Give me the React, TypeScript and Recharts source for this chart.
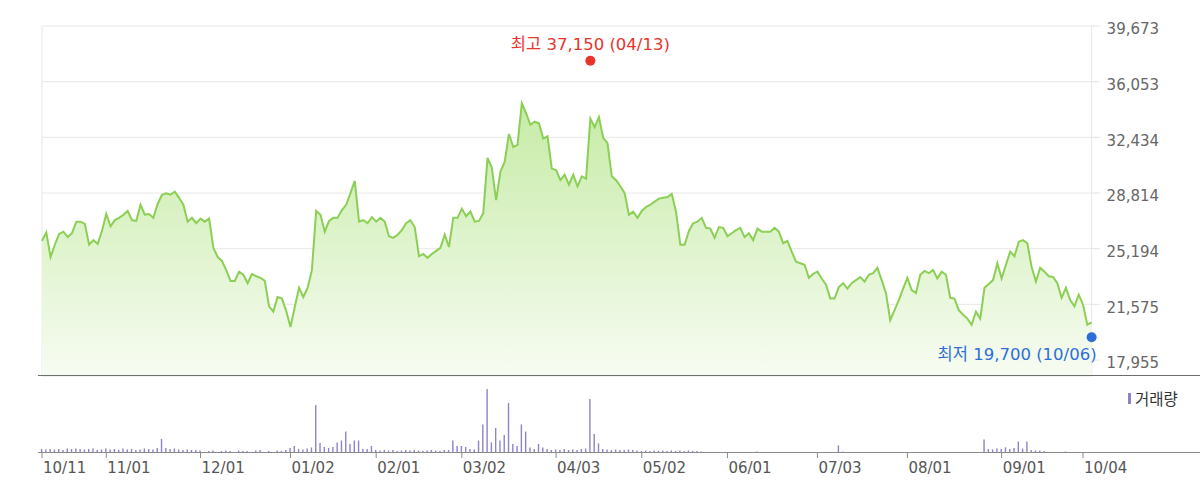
import React from "react"
import {
  ComposedChart,
  Area,
  Bar,
  XAxis,
  YAxis,
  CartesianGrid,
  ReferenceDot,
} from "recharts"

// daily closes, 2022-10-11 .. 2023-10-06 (246 trading days)
const closes = [
  25700, 26250, 24650, 25450, 26150, 26300, 25950, 26200, 26950, 26950,
  26800, 25450, 25750, 25500, 26350, 27450, 26650, 27050, 27200, 27400,
  27650, 27050, 27000, 28050, 27400, 27450, 27200, 28100, 28700, 28800,
  28700, 28900, 28500, 28050, 26950, 27200, 26850, 27150, 26950, 27150,
  25250, 24650, 24400, 23800, 23100, 23100, 23700, 23500, 22950, 23550,
  23400, 23300, 23100, 21450, 21100, 22050, 21950, 21150, 20100, 21400,
  22650, 22050, 22650, 23800, 27650, 27400, 26300, 27000, 27200, 27200,
  27700, 28050, 28800, 29600, 26950, 27050, 26850, 27250, 26950, 27200,
  26950, 26000, 25900, 26100, 26400, 26850, 27050, 26600, 24700, 24850,
  24600, 24850, 25050, 25250, 26100, 25300, 27200, 27200, 27800, 27300,
  27600, 26950, 27000, 27500, 31100, 30450, 28350, 30200, 30850, 32650,
  31800, 31950, 34650, 34000, 33250, 33450, 33350, 32350, 32500, 30400,
  30300, 29650, 30000, 29350, 30000, 29250, 29900, 29750, 33650, 33100,
  33750, 32400, 32050, 29900, 29650, 29250, 28800, 27400, 27600, 27200,
  27650, 27900, 28050, 28250, 28450, 28500, 28550, 28750, 27600, 25450,
  25450, 26350, 26850, 26950, 27200, 26550, 26500, 25900, 26600, 26550,
  26000, 26200, 26400, 26550, 25950, 26200, 25750, 26500, 26300, 26300,
  26300, 26550, 26300, 25550, 25700, 25000, 24350, 24250, 24150, 23300,
  23550, 23700, 23250, 22850, 21950, 21950, 22700, 22950, 22600, 22950,
  23150, 23350, 23050, 23500, 23600, 23950, 23150, 22300, 20550, 21200,
  21850, 22600, 23300, 22500, 22300, 23500, 23750, 23600, 23800, 23250,
  23700, 23500, 22000, 21950, 21200, 20900, 20650, 20250, 21100, 20650,
  22650, 22900, 23150, 24250, 23250, 24150, 25000, 24700, 25650, 25750,
  25550, 24000, 23050, 23950, 23700, 23400, 23350, 22950, 22000, 22650,
  21850, 21450, 22200, 21550, 20250, 20400,
]

// volume, same days (arbitrary units)
const volumes = [
  40, 35, 40, 35, 40, 30, 45, 40, 45, 40,
  35, 40, 45, 30, 35, 45, 35, 40, 30, 45,
  35, 40, 30, 35, 45, 40, 35, 50, 140, 50,
  40, 45, 35, 30, 35, 30, 30, 25, 0, 20,
  25, 0, 20, 25, 20, 0, 25, 20, 20, 0,
  25, 30, 0, 20, 0, 25, 20, 30, 50, 70,
  40, 35, 45, 55, 480, 100, 60, 50, 60, 105,
  125, 215, 90, 125, 125, 40, 40, 70, 30, 25,
  30, 25, 30, 20, 25, 30, 25, 30, 25, 20,
  25, 30, 25, 20, 30, 30, 125, 70, 70, 60,
  40, 35, 125, 286, 640, 107, 250, 125, 180, 500,
  90, 70, 286, 214, 54, 40, 90, 54, 40, 30,
  35, 30, 40, 30, 35, 30, 40, 45, 540, 190,
  96, 40, 35, 30, 35, 30, 30, 35, 30, 25,
  20, 25, 20, 25, 20, 25, 20, 25, 20, 25,
  20, 25, 20, 20, 15, 5, 0, 5, 0, 0,
  5, 0, 0, 5, 0, 0, 5, 15, 10, 0,
  0, 0, 5, 0, 0, 5, 0, 0, 0, 5,
  0, 0, 5, 0, 0, 0, 76, 15, 0, 0,
  0, 10, 0, 0, 0, 10, 0, 10, 5, 10,
  0, 0, 0, 0, 0, 10, 10, 0, 10, 0,
  10, 0, 0, 0, 0, 0, 0, 0, 0, 0,
  134, 40, 35, 45, 40, 57, 40, 50, 115, 45,
  115, 30, 25, 25, 20, 10, 5, 5, 0, 15,
  0, 0, 5, 0, 0, 0,
]

const tickIdx = [0, 15, 37, 58, 78, 98, 120, 140, 160, 181, 202, 224, 243]
const tickLabels = ["10/11", "11/01", "12/01", "01/02", "02/01", "03/02", "04/03", "05/02", "06/01", "07/03", "08/01", "09/01", "10/04"]
const priceTicks = [17955, 21575, 25194, 28814, 32434, 36053, 39673]

const high = { idx: 128, value: 37150, date: "04/13" }
const low = { idx: 245, value: 19700, date: "10/06" }

const rows = closes.map((c, i) => ({ i, close: c, vol: volumes[i] ?? 0 }))
const lastIdx = closes.length - 1

const FONT = "'DejaVu Sans', 'Noto Sans CJK KR', sans-serif"
const fmt = (v: number) => v.toLocaleString("en-US")

function DateTick(props: any) {
  const { x, y, payload } = props
  const label = tickLabels[tickIdx.indexOf(payload.value)]
  return (
    <text x={x + 1} y={y} dy={12.5} textAnchor="start" fill="#555" fontSize={15} fontFamily={FONT}>
      {label}
    </text>
  )
}

function HighMark(props: any) {
  const cy = props.cy - 4
  return (
    <g>
      <circle cx={props.cx} cy={cy} r={5} fill="#e8342b" />
      <text x={props.cx} y={cy - 11} textAnchor="middle" fill="#e8342b" fontSize={16.5} fontFamily={FONT}>
        {`최고 ${fmt(high.value)} (${high.date})`}
      </text>
    </g>
  )
}

function LowMark(props: any) {
  const cy = props.cy + 4
  return (
    <g>
      <circle cx={props.cx} cy={cy} r={5} fill="#2d6fd8" />
      <text x={props.cx + 5} y={cy + 23} textAnchor="end" fill="#2d6fd8" fontSize={16.5} fontFamily={FONT}>
        {`최저 ${fmt(low.value)} (${low.date})`}
      </text>
    </g>
  )
}

export default function App() {
  return (
    <div style={{ position: "absolute", left: 0, top: 0, width: 1200, height: 494, background: "#fff" }}>
      <div style={{ position: "absolute", left: 0, top: 0 }}>
        <ComposedChart width={1200} height={378} data={rows} margin={{ top: 26, right: 0, bottom: 1, left: 42 }}>
          <defs>
            <linearGradient id="priceFill" x1="0" y1="0" x2="0" y2="1">
              <stop offset="0%" stopColor="#c6eba6" />
              <stop offset="100%" stopColor="#f7fcf2" />
            </linearGradient>
          </defs>
          <CartesianGrid stroke="#e8e8e8" />
          <XAxis
            type="number"
            dataKey="i"
            domain={[0, lastIdx]}
            ticks={tickIdx}
            interval={0}
            tick={false}
            tickLine={false}
            axisLine={false}
            height={1}
          />
          <YAxis
            orientation="right"
            domain={[16915, 39673]}
            ticks={priceTicks}
            interval={0}
            width={108.4}
            tickSize={8}
            tickMargin={7}
            axisLine={false}
            tickLine={{ stroke: "#e2e2e2" }}
            tick={{ fill: "#666", fontSize: 15, fontFamily: FONT, dy: 3 }}
            tickFormatter={fmt}
          />
          <Area
            type="linear"
            dataKey="close"
            stroke="#8bcf55"
            strokeWidth={2}
            fill="url(#priceFill)"
            fillOpacity={1}
            dot={false}
            activeDot={false}
            isAnimationActive={false}
          />
          <ReferenceDot x={high.idx} y={high.value} r={5} shape={HighMark} ifOverflow="visible" />
          <ReferenceDot x={low.idx} y={low.value} r={5} shape={LowMark} ifOverflow="visible" />
        </ComposedChart>
      </div>

      <div style={{ position: "absolute", left: 38, top: 375, width: 1162, height: 1, background: "#6e6e6e" }} />

      <div style={{ position: "absolute", left: 0, top: 380 }}>
        <ComposedChart width={1200} height={103} data={rows} margin={{ top: 7, right: 108.4, bottom: 0, left: 42 }}>
          <XAxis
            type="number"
            dataKey="i"
            domain={[0, lastIdx]}
            ticks={tickIdx}
            interval={0}
            height={30}
            axisLine={false}
            tickSize={5}
            tickLine={{ stroke: "#8a8a8a" }}
            tick={<DateTick />}
          />
          <YAxis hide domain={[0, 660]} />
          <Bar dataKey="vol" fill="#8b84c6" barSize={1.4} isAnimationActive={false} />
        </ComposedChart>
      </div>

      <div style={{ position: "absolute", left: 38, top: 452, width: 1162, height: 1, background: "#8a8a8a" }} />

      <div style={{ position: "absolute", left: 1128, top: 387, display: "flex", alignItems: "center", fontFamily: FONT, fontSize: 15.5, color: "#333" }}>
        <span style={{ display: "inline-block", width: 3, height: 11, background: "#8b84c6", marginRight: 4 }} />
        <span>거래량</span>
      </div>
    </div>
  )
}
